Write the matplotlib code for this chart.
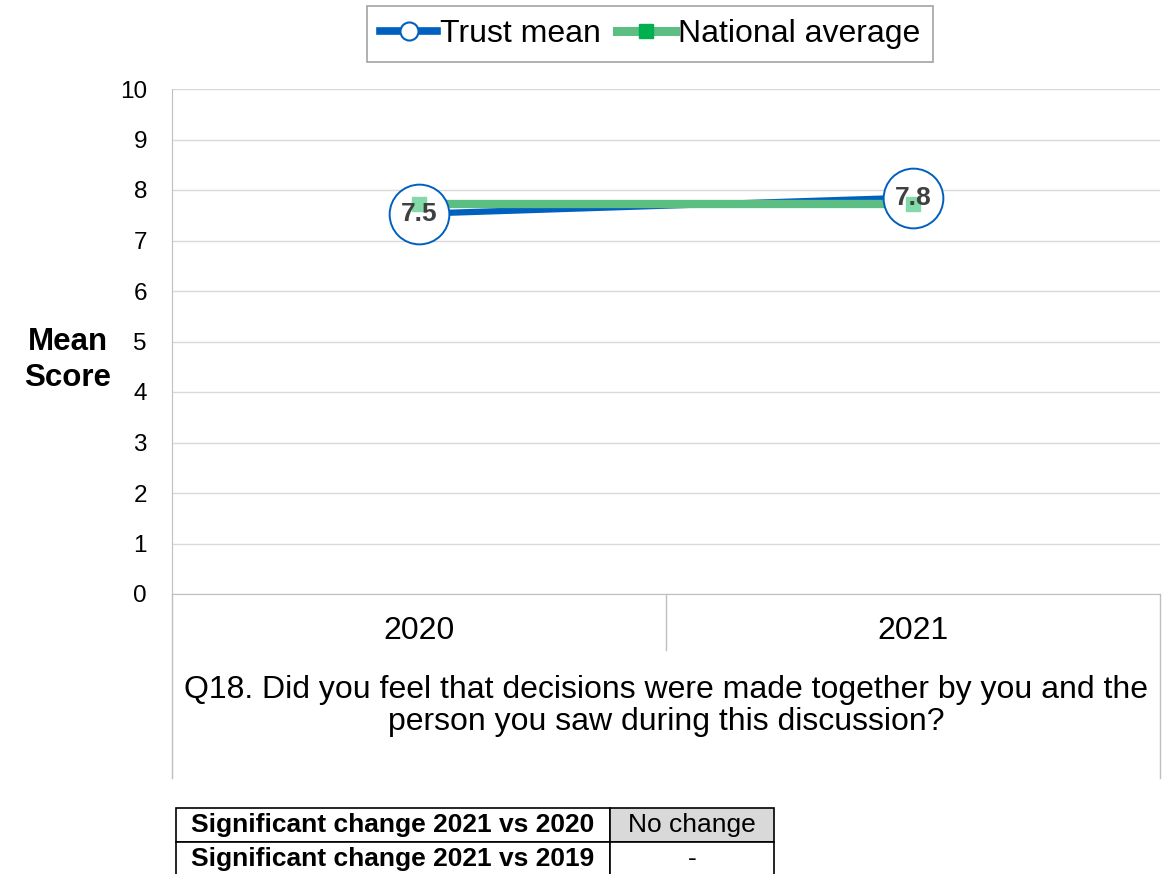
import matplotlib.pyplot as plt
from matplotlib.lines import Line2D
from matplotlib.patches import Rectangle

plt.rcParams['font.family'] = ['Liberation Sans', 'DejaVu Sans']

years = ["2020", "2021"]
trust_mean = [7.53, 7.85]
national_avg = [7.72, 7.72]
trust_labels = ["7.5", "7.8"]
question = "Q18. Did you feel that decisions were made together by you and the\nperson you saw during this discussion?"
table_rows = ["Significant change 2021 vs 2020", "Significant change 2021 vs 2019"]
table_vals = ["No change", "-"]

blue = "#0060BF"
green_line = "#5DBE84"
green_sq = "#84D9A8"
grid_c = "#D9D9D9"
axis_c = "#BFBFBF"

W, H = 1164, 874
fig = plt.figure(figsize=(W / 100, H / 100), dpi=100)
ax = fig.add_axes([172 / W, (H - 594) / H, 988 / W, 505 / H])

x = list(range(len(years)))
ax.plot(x, trust_mean, color=blue, lw=4.5, zorder=2, solid_capstyle='butt')
ax.plot(x, national_avg, color=green_line, lw=6, zorder=3, solid_capstyle='butt')
ax.plot(x, trust_mean, ls='none', marker='o', ms=43, mfc='white', mec=blue,
        mew=1.4, zorder=4)
ax.plot(x, national_avg, ls='none', marker='s', ms=9.5, mfc=green_sq, mec=green_sq,
        zorder=5)
for xi, yi, lab in zip(x, trust_mean, trust_labels):
    ax.text(xi, yi, lab, ha='center', va='center', fontsize=19, fontweight='bold',
            color='#404040', zorder=6)

ax.set_xlim(-0.5, len(years) - 0.5)
ax.set_ylim(0, 10)
ax.set_yticks(range(0, 11))
ax.tick_params(axis='y', length=0, pad=18, labelsize=17.5)
ax.set_xticks([])
ax.grid(axis='y', color=grid_c, lw=1)
ax.set_axisbelow(True)
for s in ['top', 'right']:
    ax.spines[s].set_visible(False)
ax.spines['left'].set_color(axis_c)
ax.spines['bottom'].set_color(axis_c)

# multi-level category axis below the plot
tr = ax.get_xaxis_transform()
y_mid = (594 - 650) / 505
y_low = (594 - 778) / 505
for xb in [-0.5, 0.5, 1.5]:
    yb = y_low if xb in (-0.5, len(years) - 0.5) else y_mid
    ax.plot([xb, xb], [0, yb], color=axis_c, lw=1, transform=tr, clip_on=False)
for xi, yr in zip(x, years):
    ax.text(xi, (594 - 631) / 505, yr, transform=tr, ha='center', va='center',
            fontsize=23)
ax.text((len(years) - 1) / 2, (594 - 706) / 505, question, transform=tr,
        ha='center', va='center', fontsize=23, linespacing=1.12)

fig.text(68 / W, 1 - 360 / H, "Mean\nScore", ha='center', va='center',
         fontsize=22.5, fontweight='bold', linespacing=1.3)

handles = [
    Line2D([], [], color=blue, lw=5.5, marker='o', ms=13, mfc='white', mec=blue,
           mew=1.5),
    Line2D([], [], color=green_line, lw=6.5, marker='s', ms=10, mfc='#00B050',
           mec='#00B050'),
]
leg = fig.legend(handles, ["Trust mean", "National average"], loc='center',
                 bbox_to_anchor=(650 / W, 1 - 34 / H), ncol=2, fontsize=23,
                 frameon=True, fancybox=False, edgecolor='#8C8C8C',
                 handlelength=1.8, handletextpad=0.1, columnspacing=0.5,
                 borderpad=0.4, borderaxespad=0)
leg.get_frame().set_linewidth(1.2)

# significance table
tab = fig.add_axes([0, 0, 1, 1])
tab.set_xlim(0, W)
tab.set_ylim(H, 0)
tab.axis('off')
col_x = [176, 610, 774]
row_y = [808, 842, 876]
for i, (lab, val) in enumerate(zip(table_rows, table_vals)):
    y0, y1 = row_y[i], row_y[i + 1]
    tab.add_patch(Rectangle((col_x[0], y0), col_x[1] - col_x[0], y1 - y0,
                            fc='white', ec='black', lw=1.2))
    fc = '#D9D9D9' if val == "No change" else 'white'
    tab.add_patch(Rectangle((col_x[1], y0), col_x[2] - col_x[1], y1 - y0,
                            fc=fc, ec='black', lw=1.2))
    tab.text((col_x[0] + col_x[1]) / 2, (y0 + y1) / 2, lab, ha='center',
             va='center', fontsize=19, fontweight='bold')
    tab.text((col_x[1] + col_x[2]) / 2, (y0 + y1) / 2, val, ha='center',
             va='center', fontsize=19)

fig.savefig("out.png", dpi=100)
